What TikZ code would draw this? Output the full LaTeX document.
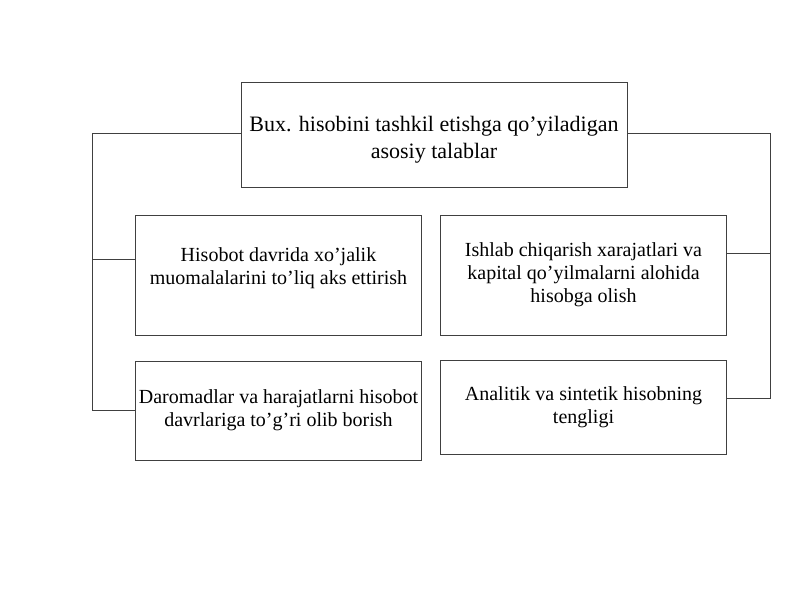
\documentclass[tikz,border=0pt]{standalone}
\usepackage{fontspec}
\setmainfont{Liberation Serif}
\usetikzlibrary{positioning}
\tikzset{
  talab/.style = {draw = black!75, line width = 0.8pt, align = center, inner sep = 0pt,
                  font = \fontsize{20}{23}\selectfont},
  ulash/.style = {draw = black!75, line width = 0.8pt}
}
\begin{document}
\begin{tikzpicture}[x = 1pt, y = -1pt]
\useasboundingbox (0,0) rectangle (800,600);
% asosiy blok
\node[talab, minimum width = 386, minimum height = 105, font = \fontsize{22}{27}\selectfont] (asosiy) at (434,134.5) {\rule{0pt}{25pt}Bux. hisobini tashkil etishga qo’yiladigan\\asosiy talablar};
% talablar
\node[talab, minimum width = 286, minimum height = 120] (hisobot) at (278.5,275) {Hisobot davrida xo’jalik\\muomalalarini to’liq aks ettirish\\[-5pt]\mbox{}};
\node[talab, minimum width = 286, minimum height = 120] (xarajat) at (583.5,275) {Ishlab chiqarish xarajatlari va\\kapital qo’yilmalarni alohida\\hisobga olish};
\node[talab, minimum width = 286, minimum height = 99] (daromad) at (278.5,410.5) {Daromadlar va harajatlarni hisobot\\davrlariga to’g’ri olib borish};
\node[talab, minimum width = 286, minimum height = 94] (analitik) at (583.5,407) {Analitik va sintetik hisobning\\tengligi};
% ulanishlar
\coordinate (chap) at (92,133);
\coordinate (ong) at (770,133);
\draw[ulash] (chap -| asosiy.west) -- (chap) |- (daromad.west);
\draw[ulash] (chap |- 0,259) -- (hisobot.west |- 0,259);
\draw[ulash] (ong -| asosiy.east) -- (ong) |- (analitik.east |- 0,398);
\draw[ulash] (ong |- 0,253) -- (xarajat.east |- 0,253);
\end{tikzpicture}
\end{document}
